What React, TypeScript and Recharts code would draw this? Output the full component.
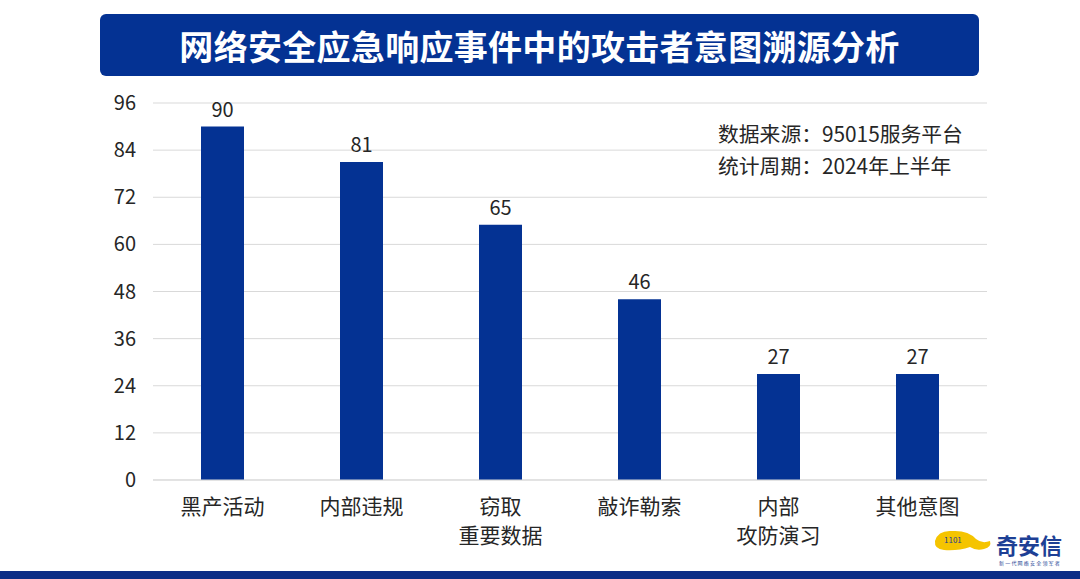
import React from "react";
import { BarChart, Bar, XAxis, YAxis, CartesianGrid, LabelList } from "recharts";

const categories = ["黑产活动", "内部违规", "窃取\n重要数据", "敲诈勒索", "内部\n攻防演习", "其他意图"];
const values = [90, 81, 65, 46, 27, 27];
const yTicks = [0, 12, 24, 36, 48, 60, 72, 84, 96];
const title = "网络安全应急响应事件中的攻击者意图溯源分析";
const notes = ["数据来源：95015服务平台", "统计周期：2024年上半年"];

const data = categories.map((c, i) => ({ name: c, value: values[i] }));

const FONT = "'Noto Sans CJK SC', 'Noto Sans', sans-serif";
const BLUE = "#043293";

const XTick = (props: any) => {
  const { x, y, payload } = props;
  const lines = String(payload.value).split("\n");
  return (
    <g>
      {lines.map((l: string, i: number) => (
        <text
          key={i}
          x={x}
          y={y + 17 + i * 29}
          textAnchor="middle"
          dominantBaseline="central"
          fontSize={21}
          fill="#262626"
          fontFamily={FONT}
        >
          {l}
        </text>
      ))}
    </g>
  );
};

export default function App() {
  return (
    <div style={{ position: "absolute", left: 0, top: 0, width: 1080, height: 579, background: "#fff", overflow: "hidden", fontFamily: FONT }}>
      <div
        style={{
          position: "absolute",
          left: 100,
          top: 14,
          width: 879,
          height: 62,
          background: BLUE,
          borderRadius: 6,
          color: "#fff",
          fontSize: 34,
          fontWeight: 700,
          display: "flex",
          alignItems: "center",
          justifyContent: "center",
          letterSpacing: 0.3,
        }}
      >
        {title}
      </div>
      <BarChart
        width={1080}
        height={579}
        data={data}
        margin={{ top: 103, right: 93, bottom: 0, left: 0 }}
        style={{ position: "absolute", left: 0, top: 0 }}
      >
        <CartesianGrid vertical={false} stroke="#d9d9d9" />
        <XAxis
          dataKey="name"
          axisLine={{ stroke: "#d9d9d9" }}
          tickLine={false}
          interval={0}
          height={99}
          tick={<XTick />}
        />
        <YAxis
          width={153}
          domain={[0, 96]}
          ticks={yTicks}
          axisLine={false}
          tickLine={false}
          tickSize={0}
          tickMargin={17}
          tick={{ fontSize: 20, fill: "#262626", fontFamily: FONT }}
        />
        <Bar dataKey="value" fill={BLUE} barSize={43} isAnimationActive={false}>
          <LabelList dataKey="value" position="top" offset={10} style={{ fontSize: 20, fill: "#262626", fontFamily: FONT }} />
        </Bar>
      </BarChart>
      {notes.map((n, i) => (
        <div key={i} style={{ position: "absolute", left: 718, top: 120 + i * 32, fontSize: 20.8, color: "#262626", lineHeight: "26px", whiteSpace: "nowrap" }}>
          {n}
        </div>
      ))}
      <svg style={{ position: "absolute", left: 932, top: 527 }} width={62} height={26}>
        <path d="M3 14 Q6 3 20 4 Q36 3 44 12 Q50 17 58 14 Q60 20 52 22 Q44 24 38 20 Q26 24 12 23 Q2 22 3 14 Z" fill="#f5c400" />
        <text x={12} y={16} fontSize={8} fill="#1d3f95" fontFamily={FONT}>1101</text>
      </svg>
      <div style={{ position: "absolute", left: 996, top: 531, fontSize: 22, fontWeight: 700, color: "#1d3f95", lineHeight: "26px", whiteSpace: "nowrap" }}>
        奇安信
      </div>
      <div style={{ position: "absolute", left: 999, top: 559, fontSize: 5, color: "#1d3f95", letterSpacing: 1.2, lineHeight: "8px", whiteSpace: "nowrap" }}>
        新一代网络安全领军者
      </div>
      <div style={{ position: "absolute", left: 0, top: 571, width: 1080, height: 8, background: "#0b2d86" }} />
    </div>
  );
}
